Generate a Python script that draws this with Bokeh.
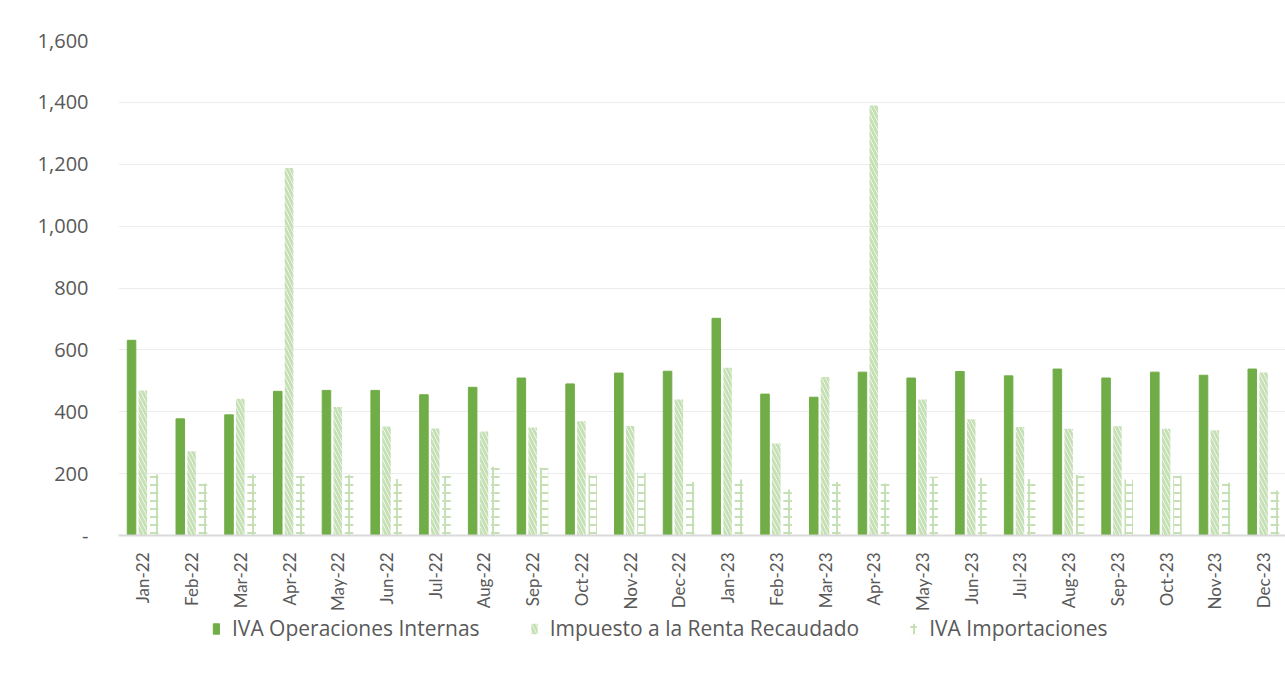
import math
from bokeh.plotting import figure
from bokeh.layouts import column
from bokeh.models import (ColumnDataSource, FixedTicker, NumeralTickFormatter,
                          Legend, LegendItem, Range1d)
from bokeh.transform import dodge
from bokeh.embed import file_html
from bokeh.resources import INLINE

months = ["Jan-22", "Feb-22", "Mar-22", "Apr-22", "May-22", "Jun-22",
          "Jul-22", "Aug-22", "Sep-22", "Oct-22", "Nov-22", "Dec-22",
          "Jan-23", "Feb-23", "Mar-23", "Apr-23", "May-23", "Jun-23",
          "Jul-23", "Aug-23", "Sep-23", "Oct-23", "Nov-23", "Dec-23"]
iva_internas = [631, 377, 390, 466, 469, 469, 455, 479, 509, 490, 525, 531,
                702, 457, 447, 528, 509, 530, 516, 538, 509, 528, 518, 538]
renta = [469, 272, 442, 1188, 415, 352, 346, 336, 349, 369, 354, 440,
         542, 297, 512, 1390, 440, 376, 351, 345, 353, 345, 340, 527]
importaciones = [197, 168, 197, 193, 196, 183, 193, 222, 219, 196, 203, 173,
                 181, 149, 173, 168, 190, 186, 182, 196, 181, 194, 171, 145]
y_ticks = [0, 200, 400, 600, 800, 1000, 1200, 1400, 1600]

series_names = ["IVA Operaciones Internas", "Impuesto a la Renta Recaudado",
                "IVA Importaciones"]

source = ColumnDataSource(dict(
    x=list(range(len(months))),
    internas=iva_internas,
    renta=renta,
    importaciones=importaciones,
))

GREEN = "#70ad47"
LIGHT = "#c5e0b4"
TEXT = "#595959"
BW = 0.175
OFF = 0.232


def add_bars(fig):
    a = fig.vbar(x=dodge("x", -OFF, range=fig.x_range), top="internas", bottom=0,
                 width=BW, source=source, fill_color=GREEN, line_color=GREEN,
                 line_width=1)
    b = fig.vbar(x=dodge("x", 0.0, range=fig.x_range), top="renta", bottom=0,
                 width=BW, source=source, fill_color="white", fill_alpha=0,
                 line_color=None, hatch_pattern="\\", hatch_color=LIGHT,
                 hatch_weight=3, hatch_scale=8)
    c = fig.vbar(x=dodge("x", OFF, range=fig.x_range), top="importaciones",
                 bottom=0, width=BW, source=source, fill_color="white",
                 fill_alpha=0, line_color=None, hatch_pattern="+",
                 hatch_color=LIGHT, hatch_weight=2, hatch_scale=8)
    return a, b, c


p = figure(width=1285, height=614,
           x_range=Range1d(-0.5, 23.45), y_range=Range1d(0, 1600),
           output_backend="svg", toolbar_location=None,
           min_border_left=118, min_border_right=0,
           min_border_top=40, min_border_bottom=79)
p.outline_line_color = None
p.background_fill_color = "white"
p.border_fill_color = "white"

add_bars(p)

# x axis
p.xaxis.ticker = FixedTicker(ticks=list(range(len(months))))
p.xaxis.major_label_overrides = {i: m for i, m in enumerate(months)}
p.xaxis.major_label_orientation = math.pi / 2
p.xaxis.major_tick_line_color = None
p.xaxis.minor_tick_line_color = None
p.xaxis.axis_line_color = "#d9d9d9"
p.xaxis.axis_line_width = 2
p.xaxis.major_label_standoff = 11
p.xaxis.major_label_text_font = "Lato"
p.xaxis.major_label_text_font_size = "17px"
p.xaxis.major_label_text_color = TEXT

# y axis
p.yaxis.ticker = FixedTicker(ticks=y_ticks)
p.yaxis.formatter = NumeralTickFormatter(format="0,0")
p.yaxis.major_label_overrides = {0: "-"}
p.yaxis.axis_line_color = None
p.yaxis.major_tick_line_color = None
p.yaxis.minor_tick_line_color = None
p.yaxis.major_label_standoff = 24
p.yaxis.major_label_text_font = "Open Sans"
p.yaxis.major_label_text_font_size = "20px"
p.yaxis.major_label_text_color = TEXT

p.xgrid.grid_line_color = None
p.ygrid.ticker = FixedTicker(ticks=y_ticks)
p.ygrid.grid_line_color = "#ececec"
p.ygrid.grid_line_width = 1

# legend strip (same series, drawn outside its visible range)
lg = figure(width=1285, height=70,
            x_range=Range1d(-0.5, 23.45), y_range=Range1d(5000, 5001),
            output_backend="svg", toolbar_location=None,
            min_border_left=118, min_border_right=0,
            min_border_top=0, min_border_bottom=0)
lg.axis.visible = False
lg.grid.visible = False
lg.outline_line_color = None
lg.border_fill_color = "white"
la, lb, lc = add_bars(lg)

legend = Legend(items=[LegendItem(label=series_names[0], renderers=[la]),
                       LegendItem(label=series_names[1], renderers=[lb]),
                       LegendItem(label=series_names[2], renderers=[lc])],
                orientation="horizontal", location=(94, 42),
                border_line_color=None, background_fill_alpha=0,
                label_text_font="Open Sans", label_text_font_size="21px",
                label_text_color=TEXT, glyph_width=8, glyph_height=13,
                label_standoff=12, spacing=50, padding=0, margin=0)
lg.add_layout(legend, "center")

layout = column(p, lg, spacing=0)
open("out.html", "w").write(file_html(layout, INLINE))
